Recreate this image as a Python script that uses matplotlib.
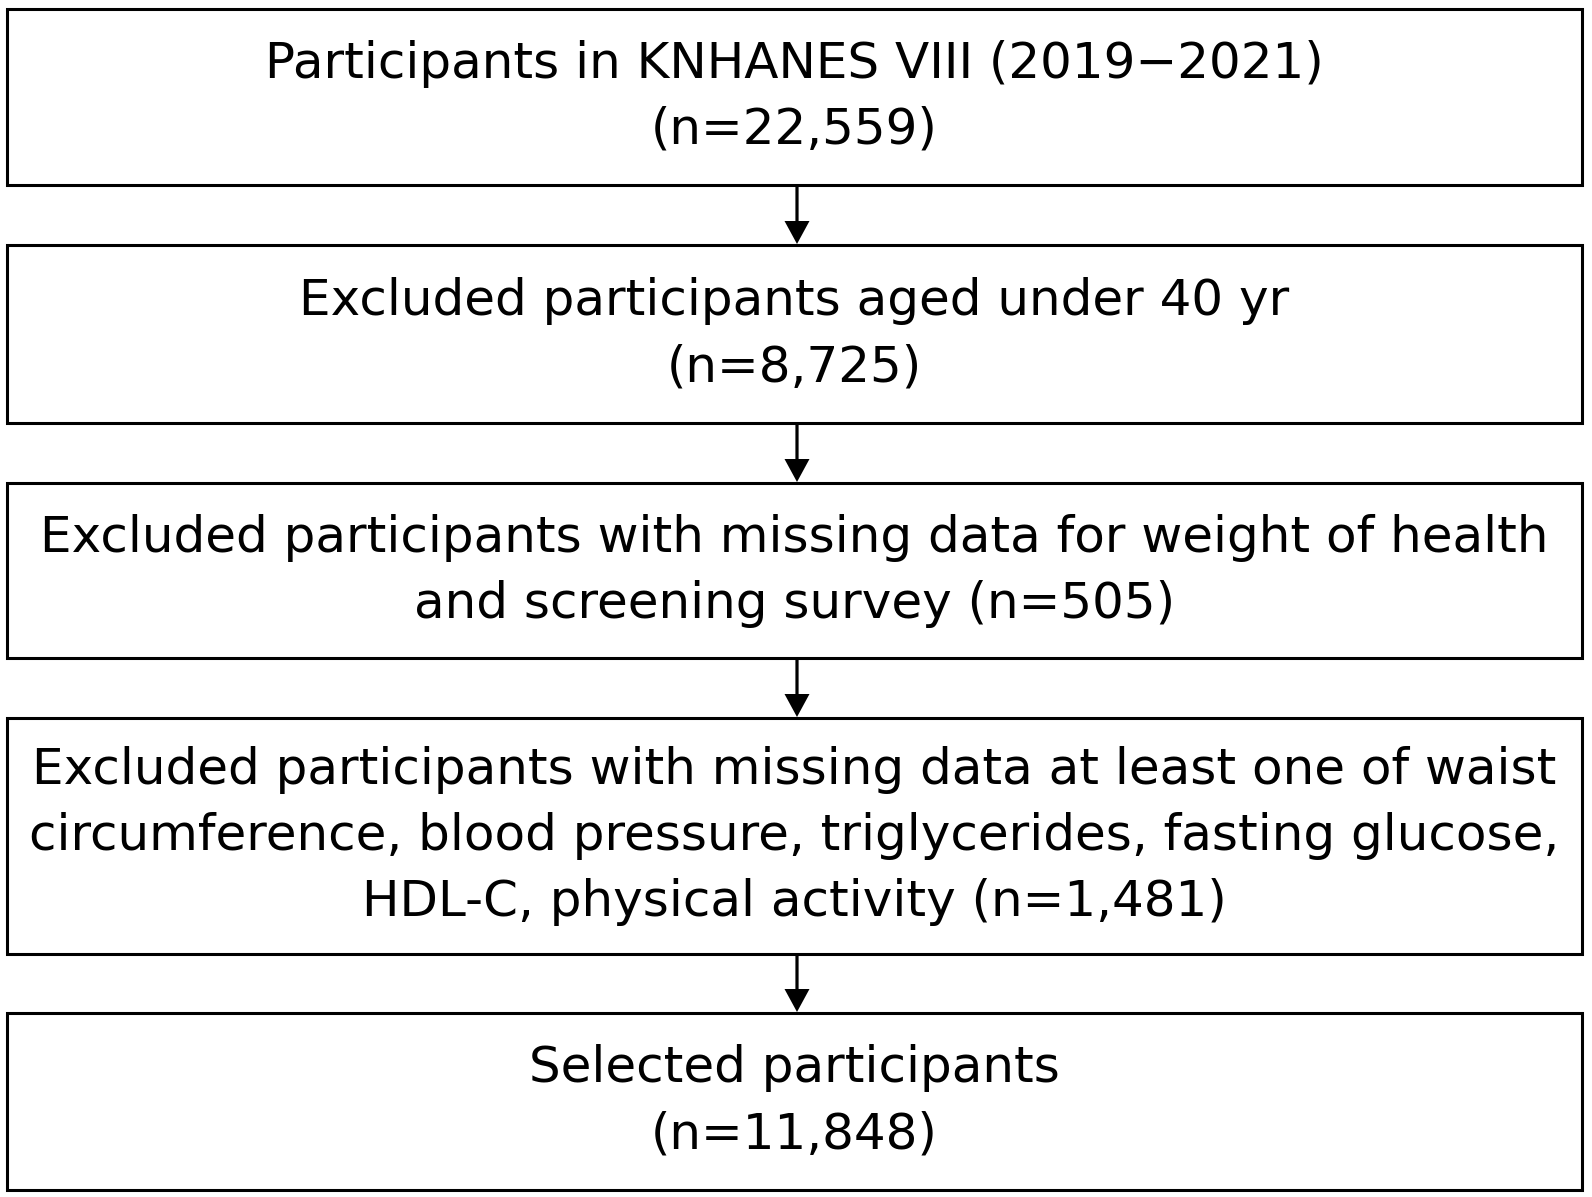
import matplotlib
matplotlib.use("Agg")
import matplotlib.pyplot as plt
from matplotlib.patches import Rectangle, FancyArrow

# ---- content ----
box_texts = [
    ["Participants in KNHANES VIII (2019\u22122021)", "(n=22,559)"],
    ["Excluded participants aged under 40 yr", "(n=8,725)"],
    ["Excluded participants with missing data for weight of health",
     "and screening survey (n=505)"],
    ["Excluded participants with missing data at least one of waist",
     "circumference, blood pressure, triglycerides, fasting glucose,",
     "HDL-C, physical activity (n=1,481)"],
    ["Selected participants", "(n=11,848)"],
]

# ---- layout (pixel units, y from top) ----
box_top = [9, 245, 483, 718, 1013]
box_bottom = [185, 423, 658, 954, 1190]
box_left, box_right = 7, 1582
arrow_x = 797
line_gap = 66

W, H = 1592, 1197
fig = plt.figure(figsize=(W / 100, H / 100), dpi=100)
ax = fig.add_axes([0, 0, 1, 1])
ax.set_xlim(0, W)
ax.set_ylim(H, 0)
ax.axis("off")

lw = 2.2
for top, bot, lines in zip(box_top, box_bottom, box_texts):
    ax.add_patch(Rectangle((box_left, top), box_right - box_left, bot - top,
                           fill=False, edgecolor="black", linewidth=lw))
    cy = (top + bot) / 2
    n = len(lines)
    for i, t in enumerate(lines):
        y = cy + (i - (n - 1) / 2) * line_gap
        ax.text((box_left + box_right) / 2, y, t, ha="center", va="center",
                fontsize=36, family="DejaVu Sans", color="black")

for i in range(len(box_top) - 1):
    y0 = box_bottom[i] + 1
    y1 = box_top[i + 1] - 1
    ax.add_patch(FancyArrow(arrow_x, y0, 0, y1 - y0, width=3.2,
                            head_width=25, head_length=23,
                            length_includes_head=True, color="black",
                            linewidth=0))

fig.savefig("out.png", dpi=100, facecolor="white")
